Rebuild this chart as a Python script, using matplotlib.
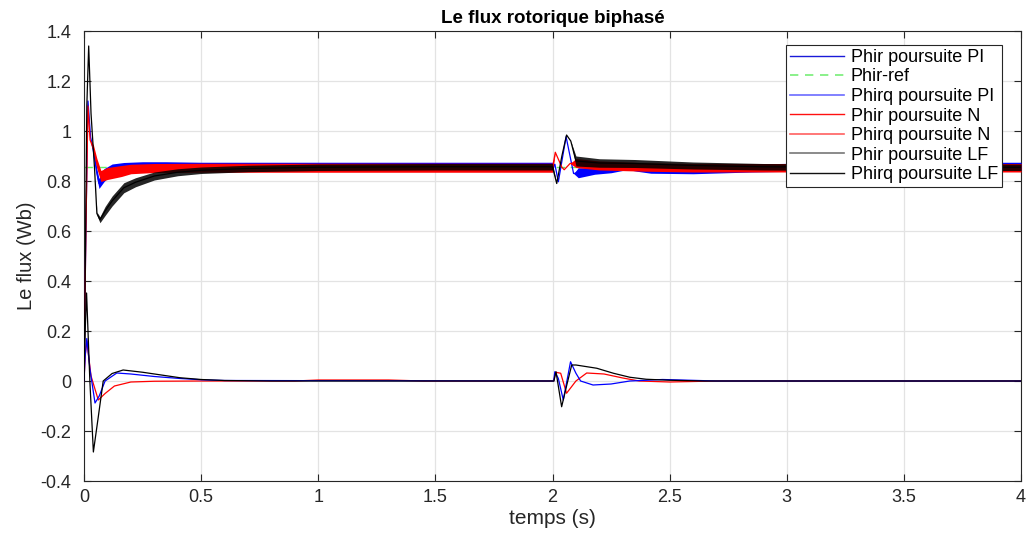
import numpy as np
import matplotlib
matplotlib.use("Agg")
import matplotlib.pyplot as plt
from matplotlib.lines import Line2D

plt.rcParams['font.family'] = ['Liberation Sans', 'DejaVu Sans']

# ---------------- data ----------------
ref_value = 0.857

# Phir (d-axis) – PI
t_pi_d = [0, 0.008, 0.017, 0.028, 0.04, 0.055, 0.064, 0.085, 0.12, 0.17, 0.25, 0.35, 0.5, 1.0, 1.5, 2.0,
          2.01, 2.025, 2.058, 2.09, 2.11, 2.18, 2.25, 2.32, 2.36, 2.42, 2.6, 2.85, 3.2, 4.0]
v_pi_d = [0, 0.6, 1.12, 0.976, 0.92, 0.83, 0.79, 0.823, 0.85, 0.862, 0.865, 0.862, 0.859, 0.859, 0.859, 0.859,
          0.867, 0.797, 0.977, 0.83, 0.833, 0.84, 0.845, 0.857, 0.85, 0.843, 0.843, 0.852, 0.858, 0.859]
rip_pi_d = [0, 0, 0, 0, 0.012, 0.018, 0.02, 0.026, 0.018, 0.012, 0.012, 0.015, 0.016, 0.016, 0.016, 0.016,
            0, 0, 0, 0, 0.02, 0.013, 0.012, 0.011, 0.011, 0.012, 0.014, 0.016, 0.016, 0.016]

# Phir (d-axis) – N
t_n_d = [0, 0.008, 0.017, 0.026, 0.04, 0.055, 0.072, 0.1, 0.16, 0.2, 0.3, 0.5, 1.0, 1.5, 2.0,
         2.012, 2.04, 2.05, 2.075, 2.1, 2.2, 2.4, 2.6, 3.0, 4.0]
v_n_d = [0, 0.6, 1.10, 0.964, 0.93, 0.87, 0.82, 0.83, 0.84, 0.848, 0.852, 0.853, 0.853, 0.853, 0.853,
         0.915, 0.855, 0.845, 0.87, 0.872, 0.862, 0.856, 0.853, 0.853, 0.853]
rip_n_d = [0, 0, 0, 0, 0.015, 0.02, 0.022, 0.024, 0.022, 0.019, 0.018, 0.018, 0.018, 0.018, 0.018,
           0, 0, 0, 0, 0.018, 0.018, 0.017, 0.017, 0.017, 0.017]

# Phir (d-axis) – LF
t_lf_d = [0, 0.006, 0.012, 0.02, 0.03, 0.045, 0.055, 0.068, 0.09, 0.12, 0.17, 0.22, 0.3, 0.4, 0.5, 0.7,
          1.0, 1.5, 2.0, 2.018, 2.04, 2.06, 2.078, 2.1, 2.2, 2.35, 2.6, 2.9, 3.2, 4.0]
v_lf_d = [0, 0.5, 1.1, 1.34, 1.07, 0.85, 0.67, 0.645, 0.68, 0.72, 0.773, 0.795, 0.82, 0.835, 0.843, 0.85,
          0.855, 0.857, 0.857, 0.79, 0.90, 0.984, 0.96, 0.88, 0.872, 0.87, 0.862, 0.857, 0.855, 0.855]
rip_lf_d = [0, 0, 0, 0, 0, 0, 0.006, 0.012, 0.018, 0.02, 0.02, 0.018, 0.016, 0.014, 0.013, 0.013,
            0.013, 0.013, 0.013, 0, 0, 0, 0, 0.02, 0.017, 0.016, 0.014, 0.013, 0.013, 0.013]

# Phirq (q-axis) – PI
t_pi_q = [0, 0.005, 0.012, 0.025, 0.047, 0.065, 0.09, 0.14, 0.2, 0.3, 0.41, 0.5, 0.6, 2.0,
          2.005, 2.01, 2.025, 2.046, 2.077, 2.1, 2.12, 2.173, 2.25, 2.33, 2.47, 2.7, 4.0]
v_pi_q = [0, 0.1, 0.17, 0.05, -0.088, -0.06, 0.0, 0.032, 0.028, 0.018, 0.01, 0.005, 0.002, 0,
          0, 0.037, 0.01, -0.076, 0.077, 0.031, 0.0, -0.016, -0.012, 0, 0.006, 0, 0]

# Phirq (q-axis) – N
t_n_q = [0, 0.005, 0.012, 0.03, 0.061, 0.09, 0.13, 0.2, 0.3, 0.5, 0.9, 1.0, 1.3, 1.45, 2.0,
         2.005, 2.013, 2.035, 2.06, 2.1, 2.146, 2.22, 2.3, 2.37, 2.5, 2.7, 4.0]
v_n_q = [0, 0.1, 0.16, 0.02, -0.076, -0.05, -0.02, -0.004, -0.001, 0, 0, 0.004, 0.004, 0, 0,
         0, 0.035, 0.031, -0.049, 0.0, 0.032, 0.028, 0.012, 0.0, -0.004, 0, 0]

# Phirq (q-axis) – LF
t_lf_q = [0, 0.005, 0.011, 0.025, 0.04, 0.06, 0.082, 0.12, 0.167, 0.25, 0.41, 0.5, 0.6, 0.8, 2.0,
          2.006, 2.015, 2.039, 2.06, 2.082, 2.1, 2.189, 2.26, 2.33, 2.4, 2.5, 2.65, 4.0]
v_lf_q = [0, 0.2, 0.352, 0.0, -0.284, -0.15, 0.0, 0.03, 0.044, 0.035, 0.013, 0.006, 0.002, 0, 0,
          0, 0.037, -0.103, -0.02, 0.064, 0.064, 0.051, 0.031, 0.015, 0.007, 0.003, 0, 0]

legend_labels = ['Phir poursuite PI', 'Phir-ref', 'Phirq poursuite PI', 'Phir poursuite N',
                 'Phirq poursuite N', 'Phir poursuite LF', 'Phirq poursuite LF']
x_ticks = [0, 0.5, 1, 1.5, 2, 2.5, 3, 3.5, 4]
x_ticklabels = ['0', '0.5', '1', '1.5', '2', '2.5', '3', '3.5', '4']
y_ticks = [-0.4, -0.2, 0, 0.2, 0.4, 0.6, 0.8, 1, 1.2, 1.4]
y_ticklabels = ['-0.4', '-0.2', '0', '0.2', '0.4', '0.6', '0.8', '1', '1.2', '1.4']

# ---------------- figure ----------------
fig = plt.figure(figsize=(10.27, 5.35), dpi=100)
ax = fig.add_axes([84 / 1027, 1 - 481 / 535, (1021 - 84) / 1027, (481 - 31) / 535])

BLUE = '#0000ff'
RED = '#ff0000'
BLACK = '#000000'
GREEN = '#66ee66'

ax.grid(True, color='#e3e3e3', linewidth=0.9, zorder=0)
ax.set_axisbelow(True)


def band(t, v, r, color, z, alpha=1.0):
    t = np.asarray(t, float)
    v = np.asarray(v, float)
    r = np.asarray(r, float)
    ax.fill_between(t, v - r, v + r, color=color, linewidth=0, zorder=z, alpha=alpha)
    ax.plot(t, v, color=color, linewidth=0.9, zorder=z)


ax.axhline(ref_value, xmin=0, xmax=1, color=GREEN, linestyle=(0, (6, 4)), linewidth=1.0, zorder=2)
band(t_pi_d, v_pi_d, rip_pi_d, BLUE, 3)
band(t_n_d, v_n_d, rip_n_d, RED, 4)
band(t_lf_d, v_lf_d, rip_lf_d, BLACK, 5, alpha=0.85)

ax.plot(t_n_q, v_n_q, color=RED, linewidth=0.9, zorder=3)
ax.plot(t_pi_q, v_pi_q, color=BLUE, linewidth=0.9, zorder=4)
ax.plot(t_lf_q, v_lf_q, color=BLACK, linewidth=0.9, zorder=5)

ax.set_xlim(0, 4)
ax.set_ylim(-0.4, 1.4)
ax.set_xticks(x_ticks)
ax.set_xticklabels(x_ticklabels)
ax.set_yticks(y_ticks)
ax.set_yticklabels(y_ticklabels)
ax.tick_params(direction='in', length=5, width=0.8, top=True, right=True,
               labelsize=13, colors='#262626')
ax.tick_params(axis='y', pad=9)
ax.tick_params(axis='x', pad=6)
for s in ax.spines.values():
    s.set_color('#262626')
    s.set_linewidth(0.8)

ax.set_title('Le flux rotorique biphasé', fontsize=13.5, fontweight='bold', pad=6)
ax.set_xlabel('temps (s)', fontsize=15, color='#262626', labelpad=2)
ax.set_ylabel('Le flux (Wb)', fontsize=14.5, color='#262626', labelpad=3)

handles = [
    Line2D([], [], color='#1a1ad8', linewidth=1.0),
    Line2D([], [], color='#77ee77', linewidth=1.2, linestyle=(0, (5, 4))),
    Line2D([], [], color='#6b6bff', linewidth=1.2),
    Line2D([], [], color='#ff1010', linewidth=1.0),
    Line2D([], [], color='#ff6060', linewidth=1.2),
    Line2D([], [], color='#777777', linewidth=1.2),
    Line2D([], [], color='#111111', linewidth=1.0),
]
leg = ax.legend(handles, legend_labels, loc='upper right',
                bbox_to_anchor=(1002 / 1027, 1 - 45 / 535), bbox_transform=fig.transFigure,
                fontsize=13, frameon=True, fancybox=False, framealpha=1,
                edgecolor='#262626', borderaxespad=0, handlelength=3.0, handletextpad=0.35,
                labelspacing=0.14, borderpad=0.22)
leg.get_frame().set_linewidth(0.8)
leg.set_zorder(10)

fig.savefig('out.png', dpi=100)
